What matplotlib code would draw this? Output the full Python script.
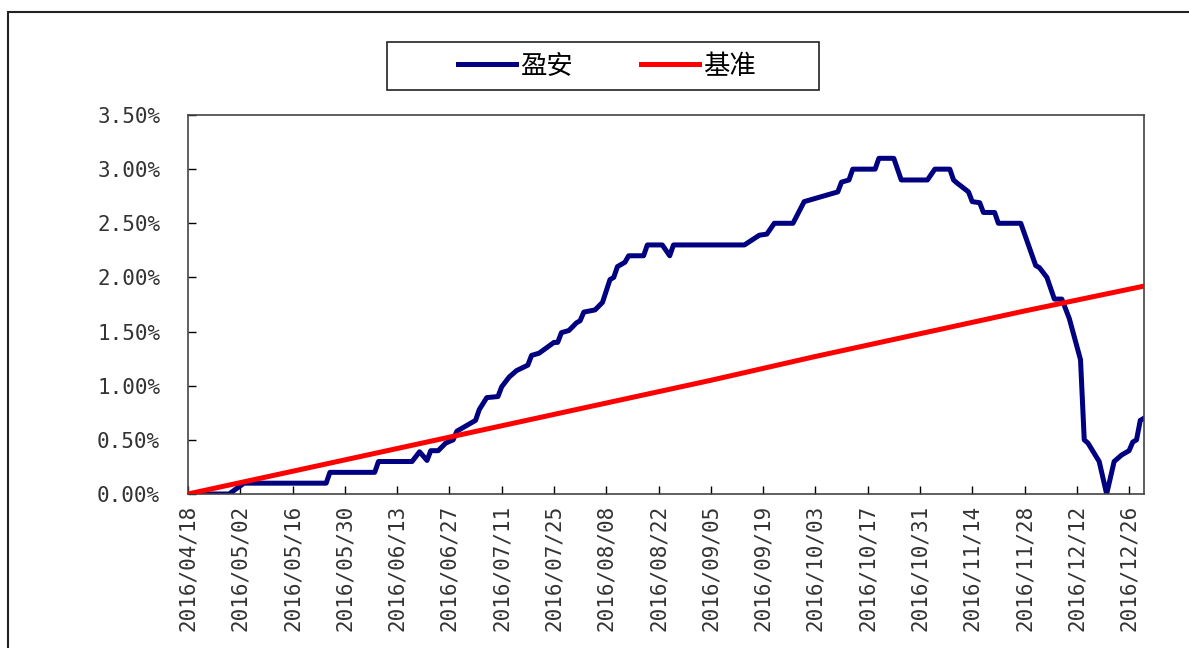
import pandas as pd
import matplotlib.pyplot as plt
from matplotlib.patches import Rectangle
from matplotlib.ticker import FuncFormatter

plt.rcParams['font.family'] = ['Noto Sans CJK SC', 'DejaVu Sans']

# 盈安: rendimiento acumulado (%)
fechas_yingan = ['2016-04-18', '2016-04-29', '2016-05-03', '2016-05-25', '2016-05-26',
                 '2016-06-07', '2016-06-08', '2016-06-17', '2016-06-19', '2016-06-21',
                 '2016-06-22', '2016-06-24', '2016-06-26', '2016-06-28', '2016-06-29',
                 '2016-07-02', '2016-07-04', '2016-07-05', '2016-07-07', '2016-07-10',
                 '2016-07-11', '2016-07-13', '2016-07-15', '2016-07-18', '2016-07-19',
                 '2016-07-21', '2016-07-23', '2016-07-25', '2016-07-26', '2016-07-27',
                 '2016-07-29', '2016-07-31', '2016-08-01', '2016-08-02', '2016-08-05',
                 '2016-08-07', '2016-08-09', '2016-08-10', '2016-08-11', '2016-08-13',
                 '2016-08-14', '2016-08-18', '2016-08-19', '2016-08-23', '2016-08-25',
                 '2016-08-26', '2016-09-14', '2016-09-18', '2016-09-20', '2016-09-22',
                 '2016-09-27', '2016-09-30', '2016-10-09', '2016-10-10', '2016-10-12',
                 '2016-10-13', '2016-10-19', '2016-10-20', '2016-10-24', '2016-10-26',
                 '2016-11-02', '2016-11-04', '2016-11-08', '2016-11-09', '2016-11-10',
                 '2016-11-13', '2016-11-14', '2016-11-16', '2016-11-17', '2016-11-20',
                 '2016-11-21', '2016-11-27', '2016-12-01', '2016-12-02', '2016-12-04',
                 '2016-12-06', '2016-12-08', '2016-12-10', '2016-12-13', '2016-12-14',
                 '2016-12-15', '2016-12-18', '2016-12-20', '2016-12-22', '2016-12-24',
                 '2016-12-26', '2016-12-27', '2016-12-28', '2016-12-29', '2016-12-30']
valores_yingan = [0.00, 0.00, 0.10, 0.10, 0.20,
                  0.20, 0.30, 0.30, 0.39, 0.31,
                  0.40, 0.40, 0.47, 0.50, 0.58,
                  0.64, 0.68, 0.78, 0.89, 0.90,
                  0.99, 1.08, 1.14, 1.19, 1.28,
                  1.30, 1.35, 1.40, 1.40, 1.49,
                  1.51, 1.58, 1.60, 1.68, 1.70,
                  1.77, 1.98, 2.00, 2.10, 2.14,
                  2.20, 2.20, 2.30, 2.30, 2.20,
                  2.30, 2.30, 2.39, 2.40, 2.50,
                  2.50, 2.70, 2.79, 2.88, 2.90,
                  3.00, 3.00, 3.10, 3.10, 2.90,
                  2.90, 3.00, 3.00, 2.90, 2.87,
                  2.79, 2.70, 2.69, 2.60, 2.60,
                  2.50, 2.50, 2.11, 2.09, 2.00,
                  1.80, 1.80, 1.62, 1.24, 0.50,
                  0.47, 0.30, 0.00, 0.30, 0.36,
                  0.40, 0.48, 0.50, 0.68, 0.70]

fechas_base = ['2016-04-18', '2016-05-16', '2016-06-13', '2016-07-11', '2016-08-08',
               '2016-09-05', '2016-10-03', '2016-10-31', '2016-11-28', '2016-12-30']
valores_base = [0.00, 0.21, 0.42, 0.63, 0.84, 1.05, 1.27, 1.48, 1.69, 1.92]

# Etiquetas del eje X (cada 14 días)
etiquetas_x = ['2016/04/18', '2016/05/02', '2016/05/16', '2016/05/30', '2016/06/13',
               '2016/06/27', '2016/07/11', '2016/07/25', '2016/08/08', '2016/08/22',
               '2016/09/05', '2016/09/19', '2016/10/03', '2016/10/17', '2016/10/31',
               '2016/11/14', '2016/11/28', '2016/12/12', '2016/12/26']

x_yingan = pd.to_datetime(fechas_yingan)
x_base = pd.to_datetime(fechas_base)
x_ticks = pd.to_datetime(etiquetas_x, format='%Y/%m/%d')

fig = plt.figure(figsize=(11.89, 6.48), dpi=100)
ax = fig.add_axes([188 / 1189, 154 / 648, 956 / 1189, 379 / 648])

linea_azul, = ax.plot(x_yingan, valores_yingan, color='#000080', lw=3.6,
                      solid_joinstyle='round', label='盈安', zorder=2)
linea_roja, = ax.plot(x_base, valores_base, color='#FF0000', lw=3.6,
                      label='基准', zorder=3)

ax.set_xlim(pd.Timestamp('2016-04-18'), pd.Timestamp('2016-12-30'))
ax.set_ylim(0, 3.5)
ax.set_yticks([0, 0.5, 1.0, 1.5, 2.0, 2.5, 3.0, 3.5])
ax.yaxis.set_major_formatter(FuncFormatter(lambda v, p: '%.2f%%' % v))
ax.set_xticks(x_ticks)
ax.set_xticklabels(etiquetas_x, rotation=90, family='DejaVu Sans Mono',
                   fontsize=15, color='#333333')
for t in ax.get_yticklabels():
    t.set_family('DejaVu Sans Mono')
    t.set_fontsize(15)
    t.set_color('#333333')

ax.tick_params(axis='x', direction='in', length=6, width=1, pad=8)
ax.tick_params(axis='y', direction='in', length=6, width=1, pad=20)
for s in ax.spines.values():
    s.set_color('#444444')
    s.set_linewidth(1.2)

# Leyenda con marco aparte
ax.legend(handles=[linea_azul, linea_roja], loc='center',
          bbox_to_anchor=(607 / 1189, 1 - 66 / 648), bbox_transform=fig.transFigure,
          ncol=2, frameon=False, fontsize=19, handlelength=2.2,
          handletextpad=0.15, columnspacing=2.6)
fig.add_artist(Rectangle((387 / 1189, 1 - 90 / 648), 432 / 1189, 48 / 648,
                         transform=fig.transFigure, fill=False,
                         edgecolor='#222222', lw=1.2))

# Borde exterior del gráfico
fig.add_artist(Rectangle((8 / 1189, -0.2), 1.5, 1.2 - 12 / 648,
                         transform=fig.transFigure, fill=False,
                         edgecolor='#222222', lw=1.5, clip_on=False))

fig.savefig('out.png', dpi=100)
